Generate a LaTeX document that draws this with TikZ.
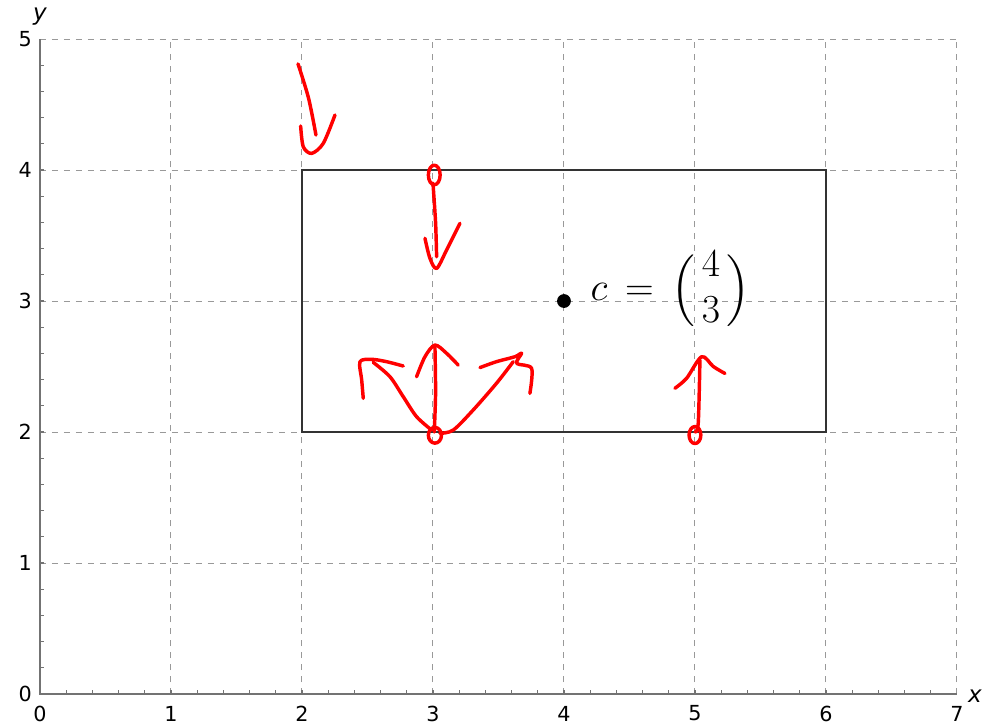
\documentclass[tikz,border=0pt]{standalone}
\usepackage{amsmath}
\usepackage{fontspec}
\newfontfamily\ticksfont{DejaVu Sans}
\usetikzlibrary{calc}
\tikzset{
  gridln/.style={draw=black!40, line width=0.45pt, dash pattern=on 2.6pt off 2.6pt},
  axln/.style={draw=black!55, line width=0.7pt},
  tickln/.style={draw=black!55, line width=0.5pt},
  boxln/.style={draw=black!80, line width=0.55pt},
  ink/.style={draw=red, line width=1.5pt, line cap=round, line join=round},
  ticklbl/.style={font=\ticksfont\fontsize{9}{10}\selectfont, inner sep=0pt},
  axlbl/.style={font=\ticksfont\itshape\fontsize{10}{11}\selectfont, inner sep=0pt},
  ptdot/.style={circle, fill=black, inner sep=0pt, minimum size=6pt}
}

\begin{document}
\begin{tikzpicture}[x=2cm,y=2cm]
\useasboundingbox (-0.305,-0.244) rectangle (7.237,5.298);
% grid
\foreach \i in {1,...,7} {
  \draw[gridln] (\i,0) -- (\i,5);
}
\foreach \j in {1,...,5} {
  \draw[gridln] (0,\j) -- (7,\j);
}
% axes and ticks
\coordinate (O) at (0,0);
\coordinate (xend) at (7,0);
\coordinate (yend) at (0,5);
\draw[axln] (xend) -- (O) -- (yend);
\foreach \t in {1,...,34} {
  \draw[tickln] ({\t/5},0) -- ({\t/5},0.03);
}
\foreach \t in {1,...,24} {
  \draw[tickln] (0,{\t/5}) -- (0.03,{\t/5});
}
\foreach \i in {0,...,7} {
  \node[ticklbl] (xl\i) at (\i,-0.149) {\i};
}
\foreach \j in {0,...,5} {
  \node[ticklbl] (yl\j) at (-0.113,\j) {\j};
}
\node[axlbl] (xname) at (7.137,-0.015) {x};
\node[axlbl] (yname) at (0,5.168) {y};
% rectangle and centre
\coordinate (ll) at (2,2);
\coordinate (ur) at (6,4);
\draw[boxln] (ll) rectangle (ur);
\node[ptdot] (c) at (4,3) {};
\node[anchor=west, inner sep=0pt, font=\fontsize{18}{20}\selectfont] (clbl) at (4.2,3.08)
  {$c \,=\, \Bigl(\,\begin{array}{@{}c@{}} 4\\ 3 \end{array}\,\Bigr)$};
% red strokes
\draw[ink] plot[smooth] coordinates {(1.97,4.81) (2.05,4.55) (2.107,4.267)};
\draw[ink] plot[smooth] coordinates {(1.990,4.336) (2.010,4.178) (2.074,4.127) (2.163,4.204) (2.252,4.420)};
\draw[ink] (3.010,3.962) ellipse [x radius=0.045, y radius=0.075];
\draw[ink] plot[smooth] coordinates {(3.0,3.9) (3.02,3.6) (3.028,3.338)};
\draw[ink] plot[smooth] coordinates {(2.939,3.479) (2.977,3.326) (3.028,3.249) (3.104,3.389) (3.206,3.593)};
\draw[ink] (3.015,1.975) ellipse [x radius=0.05, y radius=0.06];
\draw[ink] plot[smooth] coordinates {(3.01,2.0) (3.02,2.3) (3.015,2.66)};
\draw[ink] plot[smooth] coordinates {(2.875,2.422) (2.939,2.575) (3.015,2.664) (3.104,2.601) (3.193,2.511)};
\draw[ink] plot[smooth] coordinates {(2.99,2.015) (2.875,2.117) (2.773,2.27) (2.672,2.422) (2.544,2.532)};
\draw[ink] plot[smooth] coordinates {(2.468,2.257) (2.456,2.397) (2.443,2.537) (2.532,2.555) (2.646,2.537) (2.773,2.504)};
\draw[ink] plot[smooth] coordinates {(3.053,1.99) (3.155,2.015) (3.307,2.168) (3.485,2.372) (3.613,2.537)};
\draw[ink] plot[smooth] coordinates {(3.359,2.492) (3.485,2.537) (3.626,2.575) (3.677,2.601) (3.639,2.524) (3.753,2.486) (3.740,2.295)};
\draw[ink] (5.0,1.977) ellipse [x radius=0.045, y radius=0.065];
\draw[ink] plot[smooth] coordinates {(5.0,2.0) (5.025,2.066) (5.038,2.55)};
\draw[ink] plot[smooth] coordinates {(4.847,2.334) (4.936,2.41) (5.051,2.575) (5.14,2.5) (5.229,2.447)};
\end{tikzpicture}
\end{document}
